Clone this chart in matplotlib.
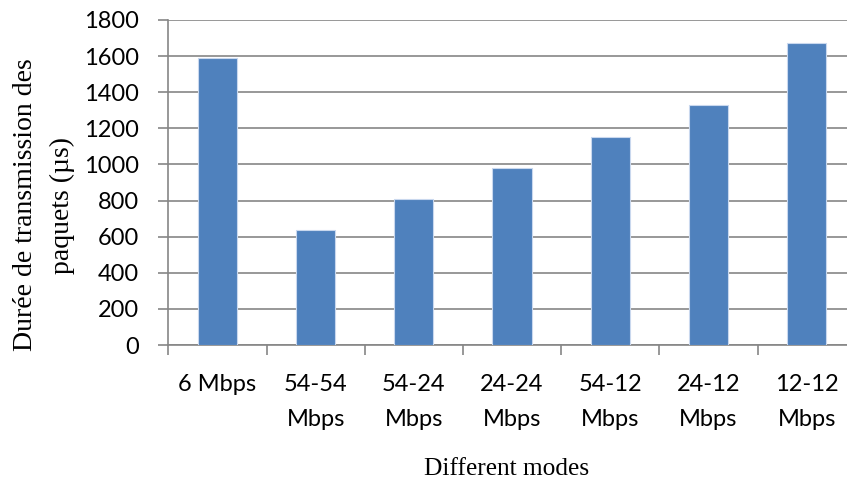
import matplotlib
matplotlib.use("Agg")
import matplotlib.pyplot as plt
import numpy as np

# données
modes = ["6 Mbps", "54-54\nMbps", "54-24\nMbps", "24-24\nMbps",
         "54-12\nMbps", "24-12\nMbps", "12-12\nMbps"]
durees = [1592, 637, 809, 981, 1154, 1328, 1671]
yticks = [0, 200, 400, 600, 800, 1000, 1200, 1400, 1600, 1800]

W, H = 847, 484
fig = plt.figure(figsize=(W / 100, H / 100), dpi=100)
# l'axe dépasse à droite comme dans l'original (coupé)
x0, x1, y0, y1 = 168.3, 855.7, 345, 20
ax = fig.add_axes([x0 / W, 1 - y0 / H, (x1 - x0) / W, (y0 - y1) / H])

x = np.arange(len(modes))
ax.bar(x, durees, width=0.4, color="#4F81BD", edgecolor="#C9D8EE",
       linewidth=0.8, zorder=3)

ax.set_xlim(-0.5, len(modes) - 0.5)
ax.set_ylim(0, 1800)
ax.set_yticks(yticks)
ax.set_yticklabels([str(v) for v in yticks], fontfamily="Lato", fontsize=17)
ax.yaxis.grid(True, color="#868686", linewidth=1.2, zorder=0)
ax.tick_params(axis="y", length=7, width=1.2, color="#868686", pad=14)

# graduations x aux frontières, étiquettes au centre
ax.set_xticks(np.arange(len(modes) + 1) - 0.5)
ax.set_xticklabels([])
ax.set_xticks(x, minor=True)
ax.set_xticklabels(modes, minor=True, fontfamily="Lato", fontsize=17)
ax.tick_params(axis="x", which="major", length=7, width=1.2, color="#868686")
ax.tick_params(axis="x", which="minor", length=0, pad=21)
for lab in ax.get_xticklabels(minor=True):
    lab.set_verticalalignment("top")
    lab.set_linespacing(1.8)

for side in ["top", "right"]:
    ax.spines[side].set_visible(False)
for side in ["left", "bottom"]:
    ax.spines[side].set_color("#868686")
    ax.spines[side].set_linewidth(1.2)

fig.text(507 / W, 1 - 469 / H, "Different modes", fontfamily="Liberation Serif",
         fontsize=18.3, ha="center", va="center")
fig.text(44 / W, 1 - 205 / H, "Durée de transmission des\npaquets (µs)",
         fontfamily="Liberation Serif", fontsize=20, ha="center", va="center",
         rotation=90, linespacing=1.6)

fig.savefig("out.png", dpi=100)
